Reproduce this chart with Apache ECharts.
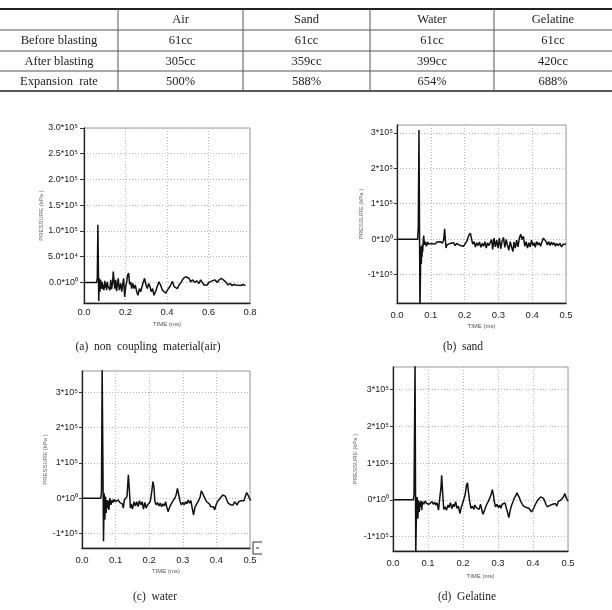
<!DOCTYPE html>
<html>
<head>
<meta charset="utf-8">
<script src="https://cdn.jsdelivr.net/npm/echarts@6/dist/echarts.min.js"></script>
<style>
html,body{margin:0;padding:0;background:#fff;}
#chart{width:612px;height:610px;}
</style>
</head>
<body>
<div id="chart"></div>
<script>
// ---------- Table data ----------
const tableHeader = ['Air', 'Sand', 'Water', 'Gelatine'];
const rowLabels = ['Before blasting', 'After blasting', 'Expansion  rate'];
const beforeBlasting = ['61cc', '61cc', '61cc', '61cc'];
const afterBlasting = ['305cc', '359cc', '399cc', '420cc'];
const expansionRate = ['500%', '588%', '654%', '688%'];

// ---------- Panel captions ----------
const captions = ['(a)  non  coupling  material(air)', '(b)  sand', '(c)  water', '(d)  Gelatine'];

// ---------- Axis ticks / labels ----------
const xTicksA = [0, 0.2, 0.4, 0.6, 0.8];
const xTicksBCD = [0, 0.1, 0.2, 0.3, 0.4, 0.5];
const yTicksA = [0, 0.5, 1.0, 1.5, 2.0, 2.5, 3.0];
const yLabelsA = ['0.0*10\u2070', '5.0*10\u2074', '1.0*10\u2075', '1.5*10\u2075', '2.0*10\u2075', '2.5*10\u2075', '3.0*10\u2075'];
const yTicksBCD = [-1, 0, 1, 2, 3];
const yLabelsBCD = ['-1*10\u2075', '0*10\u2070', '1*10\u2075', '2*10\u2075', '3*10\u2075'];
const yName = 'PRESSURE (kPa )';
const xName = 'TIME (ms)';

// ---------- Series data: [time (ms), pressure (x10^5 kPa)] ----------
const airTrace = [[0,0],[0.061,0],[0.064,0.08],[0.067,1.12],[0.071,-0.36],[0.074,0.08],[0.077,-0.18],[0.080,0.05],[0.084,-0.12],[0.087,0.01],[0.090,-0.13],[0.093,-0.04],[0.096,-0.15],[0.100,0.03],[0.103,-0.10],[0.106,-0.02],[0.109,-0.15],[0.112,0.01],[0.116,-0.08],[0.120,-0.05],[0.125,-0.15],[0.129,0.05],[0.133,-0.13],[0.138,0.0],[0.141,0.21],[0.148,-0.12],[0.153,0.05],[0.157,-0.17],[0.161,-0.05],[0.165,0.08],[0.170,-0.15],[0.177,-0.02],[0.182,-0.18],[0.186,-0.05],[0.191,0.08],[0.196,-0.28],[0.201,-0.08],[0.206,0.01],[0.210,0.14],[0.215,0.18],[0.220,-0.04],[0.225,0.01],[0.230,-0.12],[0.235,-0.02],[0.241,-0.12],[0.247,-0.05],[0.254,-0.18],[0.260,-0.25],[0.267,-0.12],[0.273,-0.18],[0.280,-0.08],[0.286,0.01],[0.292,0.08],[0.299,-0.05],[0.305,-0.12],[0.312,-0.02],[0.318,-0.08],[0.324,-0.18],[0.331,-0.12],[0.337,-0.25],[0.345,-0.18],[0.353,-0.08],[0.361,0.01],[0.369,-0.05],[0.378,-0.15],[0.386,-0.12],[0.394,-0.21],[0.402,-0.15],[0.414,-0.08],[0.426,0.02],[0.434,-0.08],[0.442,-0.05],[0.450,-0.12],[0.458,-0.05],[0.469,0.01],[0.479,0.08],[0.490,0.11],[0.498,0.14],[0.506,0.08],[0.514,0.01],[0.524,0.05],[0.533,0.0],[0.543,0.03],[0.554,-0.02],[0.562,0.05],[0.570,0.0],[0.578,-0.05],[0.586,-0.08],[0.594,-0.05],[0.602,0.0],[0.610,0.01],[0.618,0.03],[0.630,0.05],[0.643,0.0],[0.651,0.05],[0.662,0.08],[0.671,0.06],[0.683,0.01],[0.694,-0.05],[0.704,-0.02],[0.713,-0.06],[0.723,-0.04],[0.733,-0.05],[0.742,-0.04],[0.755,-0.06],[0.765,-0.04],[0.774,-0.06],[0.778,-0.06]];

const sandTrace = [[0,0],[0.061,0],[0.063,0.35],[0.065,3.08],[0.068,-2.0],[0.070,-0.55],[0.071,-0.2],[0.072,-0.7],[0.073,-0.3],[0.074,-0.5],[0.075,-0.15],[0.076,-0.35],[0.078,0.0],[0.079,0.1],[0.081,-0.16],[0.084,-0.07],[0.087,-0.2],[0.091,-0.08],[0.094,-0.14],[0.098,-0.1],[0.103,-0.12],[0.108,-0.1],[0.113,-0.14],[0.118,-0.08],[0.123,-0.12],[0.128,-0.07],[0.134,-0.11],[0.138,-0.03],[0.141,0.29],[0.143,0],[0.145,-0.25],[0.148,-0.16],[0.153,-0.2],[0.157,-0.12],[0.162,-0.16],[0.167,-0.1],[0.172,-0.18],[0.177,-0.12],[0.182,-0.14],[0.187,-0.18],[0.192,-0.14],[0.197,-0.2],[0.202,-0.16],[0.207,-0.05],[0.212,0.1],[0.217,0.17],[0.220,0.03],[0.224,-0.14],[0.228,-0.07],[0.232,-0.22],[0.236,-0.1],[0.240,-0.18],[0.244,-0.08],[0.248,-0.23],[0.252,-0.12],[0.256,-0.2],[0.260,-0.07],[0.264,-0.25],[0.268,-0.1],[0.272,-0.18],[0.276,-0.22],[0.280,-0.01],[0.283,-0.29],[0.287,0.03],[0.291,-0.22],[0.295,-0.03],[0.299,-0.25],[0.303,0.03],[0.307,-0.27],[0.311,-0.05],[0.315,0.05],[0.319,-0.23],[0.323,-0.01],[0.327,-0.18],[0.331,-0.31],[0.335,-0.07],[0.339,-0.22],[0.343,-0.35],[0.346,-0.08],[0.350,-0.25],[0.354,-0.03],[0.358,-0.22],[0.362,0.03],[0.366,0.14],[0.370,-0.01],[0.374,0.08],[0.378,-0.2],[0.382,-0.07],[0.386,-0.25],[0.390,-0.1],[0.394,-0.22],[0.398,-0.03],[0.402,-0.18],[0.406,-0.1],[0.409,-0.23],[0.413,-0.07],[0.417,-0.16],[0.421,-0.1],[0.425,-0.2],[0.429,-0.07],[0.433,0.03],[0.437,0.07],[0.441,-0.07],[0.445,-0.16],[0.449,-0.07],[0.453,-0.18],[0.457,-0.08],[0.461,-0.16],[0.465,-0.1],[0.469,-0.2],[0.472,-0.12],[0.477,-0.18],[0.482,-0.12],[0.487,-0.22],[0.492,-0.14],[0.497,-0.16],[0.500,-0.14]];

const waterTrace = [[0,0],[0.056,0],[0.058,0.19],[0.060,3.7],[0.064,-1.22],[0.066,0.14],[0.068,-0.61],[0.070,0.05],[0.072,-0.42],[0.074,-0.05],[0.076,-0.28],[0.078,-0.07],[0.080,-0.33],[0.083,0],[0.086,-0.19],[0.090,-0.05],[0.093,-0.12],[0.096,-0.03],[0.100,-0.10],[0.104,-0.07],[0.108,-0.05],[0.112,-0.12],[0.116,-0.07],[0.120,-0.16],[0.123,-0.28],[0.126,-0.05],[0.130,-0.10],[0.134,0.05],[0.138,0.66],[0.141,0.23],[0.144,-0.28],[0.147,-0.16],[0.150,-0.31],[0.153,-0.19],[0.155,-0.10],[0.159,-0.22],[0.163,-0.10],[0.167,-0.24],[0.171,-0.07],[0.175,-0.19],[0.179,-0.10],[0.183,-0.31],[0.187,-0.12],[0.191,-0.28],[0.195,-0.19],[0.199,-0.16],[0.203,-0.10],[0.207,0.14],[0.211,0.47],[0.214,0.33],[0.217,-0.10],[0.221,-0.19],[0.225,-0.12],[0.229,-0.22],[0.233,-0.14],[0.237,-0.24],[0.241,-0.16],[0.245,-0.22],[0.249,-0.10],[0.252,-0.24],[0.256,-0.38],[0.260,-0.28],[0.264,-0.19],[0.268,-0.12],[0.272,-0.07],[0.276,0],[0.280,0.09],[0.284,0.28],[0.288,0.09],[0.292,-0.10],[0.296,-0.19],[0.300,-0.12],[0.304,-0.19],[0.308,-0.10],[0.312,-0.16],[0.316,-0.05],[0.320,-0.14],[0.324,-0.07],[0.328,-0.28],[0.332,-0.47],[0.336,-0.26],[0.340,-0.19],[0.344,-0.16],[0.348,-0.05],[0.352,0.05],[0.355,0.21],[0.359,0.14],[0.363,0.05],[0.367,0],[0.371,-0.10],[0.375,-0.14],[0.379,-0.16],[0.383,-0.24],[0.387,-0.19],[0.391,-0.24],[0.395,-0.33],[0.399,-0.19],[0.403,-0.10],[0.407,-0.05],[0.411,0],[0.415,0.05],[0.419,0.09],[0.423,0.11],[0.427,0.05],[0.431,-0.05],[0.435,-0.14],[0.439,-0.16],[0.443,-0.19],[0.447,-0.16],[0.450,-0.19],[0.454,-0.10],[0.458,-0.14],[0.462,-0.19],[0.466,-0.10],[0.470,-0.05],[0.474,-0.07],[0.478,-0.03],[0.482,-0.07],[0.486,0.05],[0.490,0.16],[0.494,0.09],[0.498,0],[0.502,-0.07]];

const gelatineTrace = [[0,0],[0.058,0],[0.060,0.13],[0.063,3.75],[0.065,-1.5],[0.067,-0.28],[0.069,0.08],[0.071,-0.51],[0.073,-0.01],[0.075,-0.33],[0.077,-0.05],[0.079,-0.19],[0.081,-0.03],[0.082,-0.28],[0.084,-0.05],[0.088,-0.12],[0.092,-0.03],[0.096,-0.10],[0.100,-0.05],[0.103,-0.12],[0.107,-0.08],[0.111,-0.05],[0.115,-0.12],[0.119,-0.06],[0.122,-0.14],[0.126,-0.08],[0.130,-0.28],[0.134,0.08],[0.137,0.31],[0.139,0.67],[0.142,0.17],[0.145,-0.26],[0.149,-0.19],[0.153,-0.28],[0.157,-0.14],[0.160,-0.21],[0.164,-0.08],[0.168,-0.24],[0.172,-0.12],[0.175,-0.19],[0.179,-0.05],[0.183,-0.23],[0.187,-0.17],[0.191,-0.37],[0.195,-0.21],[0.198,-0.12],[0.202,-0.08],[0.206,0.13],[0.210,0.40],[0.213,0.46],[0.215,0.26],[0.219,-0.05],[0.223,-0.23],[0.227,-0.17],[0.231,-0.26],[0.234,-0.14],[0.238,-0.21],[0.242,-0.17],[0.246,-0.26],[0.250,-0.12],[0.253,-0.17],[0.257,-0.39],[0.261,-0.30],[0.265,-0.19],[0.268,-0.12],[0.272,-0.05],[0.276,0.04],[0.280,0.13],[0.284,0.28],[0.287,0.13],[0.289,-0.03],[0.293,-0.19],[0.297,-0.12],[0.301,-0.21],[0.305,-0.14],[0.308,-0.23],[0.312,-0.12],[0.316,-0.17],[0.320,-0.08],[0.324,-0.23],[0.327,-0.33],[0.331,-0.48],[0.335,-0.28],[0.339,-0.14],[0.343,-0.05],[0.346,0.04],[0.350,0.10],[0.354,0.19],[0.358,0.15],[0.362,0.04],[0.365,-0.05],[0.369,-0.10],[0.373,-0.17],[0.377,-0.14],[0.381,-0.21],[0.384,-0.17],[0.388,-0.23],[0.392,-0.26],[0.396,-0.33],[0.400,-0.35],[0.403,-0.21],[0.407,-0.12],[0.411,-0.05],[0.415,0.01],[0.418,0.04],[0.422,0.08],[0.426,0.10],[0.430,0.04],[0.434,-0.05],[0.437,-0.12],[0.441,-0.19],[0.445,-0.17],[0.449,-0.15],[0.453,-0.19],[0.456,-0.12],[0.460,-0.15],[0.464,-0.10],[0.468,-0.17],[0.472,-0.05],[0.475,-0.03],[0.479,-0.01],[0.483,0.04],[0.487,0.08],[0.491,0.17],[0.494,0.08],[0.498,-0.01],[0.501,-0.03]];

// ---------- Build chart ----------
const chart = echarts.init(document.getElementById('chart'), null, {renderer: 'canvas'});

const serifFont = "'Liberation Serif','Times New Roman',serif";
const sansFont = "'Liberation Sans',Arial,sans-serif";

function labelFor(ticks, labels) {
  return function (v) {
    for (let i = 0; i < ticks.length; i++) {
      if (Math.abs(ticks[i] - v) < 1e-6) return labels[i];
    }
    return '';
  };
}

// layout of the four panels
const panels = [
  {grid: {left: 84, top: 128, width: 166, height: 175}, xMax: 0.8, xInt: 0.2, yMin: -0.4, yMax: 3.0, yTicks: yTicksA, yLabels: yLabelsA, yMargin: 6, yTickLen: 4, yNameGap: 32, xMargin: 4, xNameGap: 18, data: airTrace},
  {grid: {left: 397, top: 125, width: 169, height: 178}, xMax: 0.5, xInt: 0.1, yMin: -1.8, yMax: 3.22, yTicks: yTicksBCD, yLabels: yLabelsBCD, yMargin: 4, yTickLen: 3, yNameGap: 33, xMargin: 7, xNameGap: 20, data: sandTrace},
  {grid: {left: 82, top: 371, width: 168, height: 177}, xMax: 0.5, xInt: 0.1, yMin: -1.41, yMax: 3.6, yTicks: yTicksBCD, yLabels: yLabelsBCD, yMargin: 4, yTickLen: 3, yNameGap: 34, xMargin: 7, xNameGap: 20, data: waterTrace},
  {grid: {left: 393, top: 367, width: 175, height: 184}, xMax: 0.5, xInt: 0.1, yMin: -1.39, yMax: 3.61, yTicks: yTicksBCD, yLabels: yLabelsBCD, yMargin: 4, yTickLen: 3, yNameGap: 35, xMargin: 7, xNameGap: 22, data: gelatineTrace}
];

const grids = [], xAxes = [], yAxes = [], series = [];
panels.forEach((p, i) => {
  grids.push(Object.assign({show: true, borderColor: '#9a9a9a', borderWidth: 1, backgroundColor: '#fff'}, p.grid));
  xAxes.push({
    type: 'value', gridIndex: i, min: 0, max: p.xMax, interval: p.xInt,
    axisLine: {show: true, onZero: false, lineStyle: {color: '#222', width: 1.3}},
    axisTick: {show: false},
    splitLine: {show: true, lineStyle: {color: '#b8b8b8', width: 1, type: [1, 2]}},
    axisLabel: {color: '#222', fontSize: 9.5, fontFamily: sansFont, margin: p.xMargin, formatter: v => v.toFixed(1)},
    name: xName, nameLocation: 'middle', nameGap: p.xNameGap,
    nameTextStyle: {fontSize: 6, color: '#555', fontFamily: sansFont}
  });
  yAxes.push({
    type: 'value', gridIndex: i, min: p.yMin, max: p.yMax,
    axisLine: {show: true, onZero: false, lineStyle: {color: '#222', width: 1.3}},
    axisTick: {show: true, length: p.yTickLen, customValues: p.yTicks, lineStyle: {color: '#333'}},
    splitLine: {show: true, lineStyle: {color: '#b8b8b8', width: 1, type: [1, 2]}},
    axisLabel: {color: '#222', fontSize: 9, fontFamily: sansFont, margin: p.yMargin, customValues: p.yTicks, formatter: labelFor(p.yTicks, p.yLabels)},
    name: yName, nameLocation: 'middle', nameGap: p.yNameGap, nameRotate: 90,
    nameTextStyle: {fontSize: 6, color: '#666', fontFamily: sansFont}
  });
  series.push({
    type: 'line', xAxisIndex: i, yAxisIndex: i, data: p.data,
    showSymbol: false, symbol: 'none', clip: true,
    lineStyle: {color: '#111', width: 1.5}
  });
});

// ---------- Table & captions as graphic text ----------
const colEdges = [0, 118, 243, 370, 494, 612];
const rowEdges = [9, 30, 51, 71, 91];
const graphic = [];
rowEdges.forEach((y, i) => {
  const w = (i === 0) ? 2.2 : (i === rowEdges.length - 1 ? 1.6 : 1);
  graphic.push({type: 'line', silent: true, shape: {x1: 0, y1: y, x2: 612, y2: y}, style: {stroke: i === 0 || i === rowEdges.length - 1 ? '#222' : '#555', lineWidth: w}});
});
colEdges.slice(1, -1).forEach(x => {
  graphic.push({type: 'line', silent: true, shape: {x1: x, y1: rowEdges[0], x2: x, y2: rowEdges[rowEdges.length - 1]}, style: {stroke: '#555', lineWidth: 1}});
});
const tableRows = [[''].concat(tableHeader), [rowLabels[0]].concat(beforeBlasting), [rowLabels[1]].concat(afterBlasting), [rowLabels[2]].concat(expansionRate)];
tableRows.forEach((row, r) => {
  row.forEach((txt, c) => {
    if (!txt) return;
    graphic.push({type: 'text', silent: true,
      x: (colEdges[c] + colEdges[c + 1]) / 2, y: (rowEdges[r] + rowEdges[r + 1]) / 2 + 0.5,
      style: {text: txt, fill: '#222', font: "12.5px " + serifFont, textAlign: 'center', textVerticalAlign: 'middle'}});
  });
});
const captionPos = [[148, 347], [463, 347], [155, 597], [467, 597]];
captions.forEach((t, i) => {
  graphic.push({type: 'text', silent: true, x: captionPos[i][0], y: captionPos[i][1],
    style: {text: t, fill: '#222', font: "11.5px " + serifFont, textAlign: 'center', textVerticalAlign: 'middle'}});
});
// small box artifact at lower right of panel (c)
graphic.push({type: 'polyline', silent: true, shape: {points: [[262, 542], [253, 542], [253, 554], [262, 554]]}, style: {stroke: '#333', fill: null, lineWidth: 1}});
graphic.push({type: 'line', silent: true, shape: {x1: 256, y1: 548, x2: 259, y2: 548}, style: {stroke: '#333', lineWidth: 1}});

chart.setOption({
  animation: false,
  backgroundColor: '#fff',
  grid: grids,
  xAxis: xAxes,
  yAxis: yAxes,
  series: series,
  graphic: graphic
});
</script>
</body>
</html>
